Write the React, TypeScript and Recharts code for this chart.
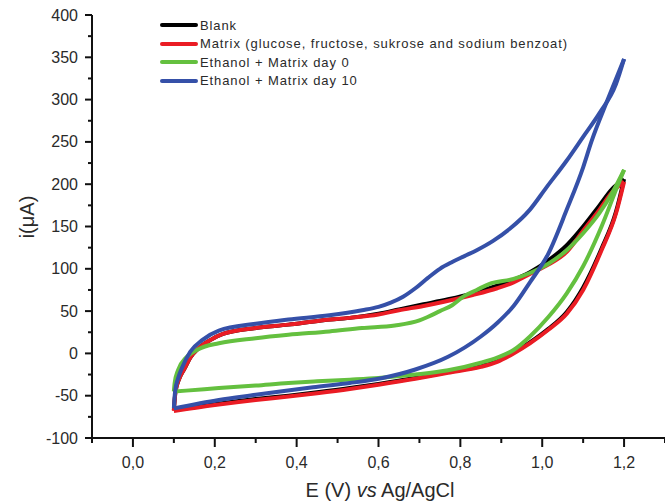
import { LineChart, Line, XAxis, YAxis } from 'recharts';

// potential (V) vs current (uA)
// forward scan 0.1 -> 1.2 V, reverse scan 1.2 -> 0.1 V
const BLANK_FORWARD: [number, number][] = [
  [0.10, -67], [0.104, -45], [0.113, -30], [0.126, -18], [0.14, -5], [0.16, 6], [0.19, 16],
  [0.22, 23], [0.30, 30], [0.38, 34], [0.46, 39], [0.53, 42], [0.60, 47], [0.65, 52],
  [0.71, 58], [0.77, 64], [0.83, 71], [0.89, 80], [0.93, 87], [0.97, 96], [1.015, 110],
  [1.06, 128], [1.10, 150], [1.14, 175], [1.17, 194], [1.20, 206],
];
const BLANK_REVERSE: [number, number][] = [
  [1.20, 206], [1.18, 167], [1.145, 124], [1.10, 78], [1.06, 49], [1.015, 29], [0.97, 13],
  [0.93, 1], [0.89, -9], [0.85, -15], [0.77, -22], [0.69, -29], [0.60, -36], [0.53, -41],
  [0.45, -46], [0.38, -50], [0.30, -54], [0.20, -60], [0.10, -67],
];

const MATRIX_FORWARD: [number, number][] = [
  [0.10, -68], [0.104, -45], [0.113, -30], [0.126, -18], [0.14, -5], [0.16, 6], [0.19, 16],
  [0.22, 23], [0.30, 30], [0.38, 34], [0.46, 39], [0.53, 42], [0.60, 46], [0.65, 51],
  [0.71, 56], [0.76, 61], [0.83, 69], [0.89, 77], [0.93, 84], [0.97, 94], [1.015, 105],
  [1.06, 120], [1.10, 145], [1.14, 170], [1.17, 190], [1.20, 203],
];
const MATRIX_REVERSE: [number, number][] = [
  [1.20, 203], [1.18, 165], [1.145, 122], [1.10, 75], [1.06, 47], [1.015, 28], [0.97, 12],
  [0.93, 0], [0.89, -10], [0.85, -16], [0.77, -23], [0.69, -30], [0.60, -37], [0.53, -42],
  [0.45, -47], [0.38, -51], [0.30, -55], [0.20, -61], [0.10, -68],
];

const DAY0_FORWARD: [number, number][] = [
  [0.10, -45], [0.102, -35], [0.11, -20], [0.13, -5], [0.16, 5], [0.21, 12], [0.30, 18],
  [0.38, 22], [0.48, 26], [0.56, 30], [0.64, 33], [0.70, 39], [0.72, 43], [0.75, 50],
  [0.78, 57], [0.81, 68], [0.84, 75], [0.87, 82], [0.93, 88], [0.97, 95], [1.015, 106],
  [1.06, 122], [1.10, 142], [1.14, 166], [1.17, 189], [1.20, 217],
];
const DAY0_REVERSE: [number, number][] = [
  [1.20, 217], [1.18, 193], [1.145, 150], [1.10, 103], [1.06, 71], [1.015, 43], [0.97, 20],
  [0.93, 4], [0.89, -5], [0.85, -11], [0.77, -20], [0.69, -25], [0.60, -29], [0.53, -31],
  [0.45, -33], [0.38, -35], [0.30, -38], [0.21, -41], [0.13, -44], [0.10, -45],
];

const DAY10_FORWARD: [number, number][] = [
  [0.10, -65], [0.103, -45], [0.11, -30], [0.12, -17], [0.14, 2], [0.17, 16], [0.21, 27],
  [0.30, 35], [0.38, 40], [0.48, 45], [0.56, 51], [0.60, 55], [0.63, 60], [0.66, 67],
  [0.69, 77], [0.72, 89], [0.75, 100], [0.78, 108], [0.81, 115], [0.84, 122], [0.88, 133],
  [0.92, 147], [0.97, 170], [1.01, 196], [1.06, 228], [1.10, 256], [1.14, 284], [1.18, 318],
  [1.20, 348],
];
const DAY10_REVERSE: [number, number][] = [
  [1.20, 348], [1.16, 300], [1.12, 250], [1.10, 220], [1.06, 170], [1.015, 118], [0.97, 84],
  [0.93, 56], [0.89, 36], [0.85, 20], [0.77, -4], [0.69, -19], [0.61, -29], [0.53, -35],
  [0.44, -40], [0.36, -45], [0.30, -49], [0.21, -55], [0.10, -65],
];

const SERIES_NAMES = [
  'Blank',
  'Matrix (glucose, fructose, sukrose and sodium benzoat)',
  'Ethanol + Matrix day 0',
  'Ethanol + Matrix day 10',
];
const SERIES_COLORS = ['#000000', '#ea1c24', '#64c03f', '#3550a8'];

const X_TICKS = [-0.1, 0.0, 0.1, 0.2, 0.3, 0.4, 0.5, 0.6, 0.7, 0.8, 0.9, 1.0, 1.1, 1.2, 1.3];
const X_TICK_LABELS = ['', '0,0', '', '0,2', '', '0,4', '', '0,6', '', '0,8', '', '1,0', '', '1,2', ''];
const Y_TICKS = [-100, -75, -50, -25, 0, 25, 50, 75, 100, 125, 150, 175, 200, 225, 250, 275, 300, 325, 350, 375, 400];
const Y_TICK_LABELS = ['-100', '', '-50', '', '0', '', '50', '', '100', '', '150', '', '200', '', '250', '', '300', '', '350', '', '400'];

const toPoints = (pairs: [number, number][]) =>
  pairs.map(([e, i]) => ({ e, i })).sort((a, b) => a.e - b.e);

const branches = [
  { name: SERIES_NAMES[0], color: SERIES_COLORS[0], fwd: BLANK_FORWARD, rev: BLANK_REVERSE },
  { name: SERIES_NAMES[1], color: SERIES_COLORS[1], fwd: MATRIX_FORWARD, rev: MATRIX_REVERSE },
  { name: SERIES_NAMES[2], color: SERIES_COLORS[2], fwd: DAY0_FORWARD, rev: DAY0_REVERSE },
  { name: SERIES_NAMES[3], color: SERIES_COLORS[3], fwd: DAY10_FORWARD, rev: DAY10_REVERSE },
];

const FONT = 'Arial, "Liberation Sans", sans-serif';
const TEXT_COLOR = '#2a2a2a';

const XTick = (props: any) => {
  const { x, y, index } = props;
  const label = X_TICK_LABELS[index];
  const major = label !== '';
  return (
    <g>
      <line x1={x} x2={x} y1={y} y2={y + (major ? 9 : 5)} stroke="#111" strokeWidth={2} />
      {major && (
        <text x={x} y={y + 30} textAnchor="middle" fontSize={16} fontFamily={FONT} fill={TEXT_COLOR}>
          {label}
        </text>
      )}
    </g>
  );
};

const YTick = (props: any) => {
  const { x, y, index } = props;
  const label = Y_TICK_LABELS[index];
  const major = label !== '';
  return (
    <g>
      <line x1={x - (major ? 7 : 4)} x2={x} y1={y} y2={y} stroke="#111" strokeWidth={2} />
      {major && (
        <text x={x - 14} y={y + 5.5} textAnchor="end" fontSize={16} fontFamily={FONT} fill={TEXT_COLOR}>
          {label}
        </text>
      )}
    </g>
  );
};

const LegendBox = () => (
  <div
    style={{
      position: 'absolute',
      top: 16,
      left: 160,
      fontFamily: FONT,
      fontSize: 13,
      color: TEXT_COLOR,
      letterSpacing: 0.9,
    }}
  >
    {SERIES_NAMES.map((name, idx) => (
      <div key={name} style={{ display: 'flex', alignItems: 'center', height: 18.5, whiteSpace: 'nowrap' }}>
        <div style={{ width: 38, height: 4, borderRadius: 2, background: SERIES_COLORS[idx], marginRight: 2 }} />
        <span>{name}</span>
      </div>
    ))}
  </div>
);

export default function App() {
  return (
    <div style={{ position: 'absolute', left: 0, top: 0, width: 665, height: 503, background: '#fff', overflow: 'hidden' }}>
      <LineChart width={665} height={503} margin={{ top: 15, right: 0, bottom: 0, left: 0 }}>
        <XAxis
          type="number"
          dataKey="e"
          domain={[-0.1, 1.3]}
          ticks={X_TICKS}
          interval={0}
          allowDataOverflow
          height={65}
          tickSize={0}
          tickMargin={0}
          tick={<XTick />}
          axisLine={{ stroke: '#111', strokeWidth: 2 }}
          label={{
            content: () => (
              <text x={380} y={497} textAnchor="middle" fontSize={20} fontFamily={FONT} fill={TEXT_COLOR}>
                E (V) <tspan fontStyle="italic">vs</tspan> Ag/AgCl
              </text>
            ),
          }}
        />
        <YAxis
          type="number"
          domain={[-100, 400]}
          ticks={Y_TICKS}
          interval={0}
          allowDataOverflow
          width={92}
          tickSize={0}
          tickMargin={0}
          tick={<YTick />}
          axisLine={{ stroke: '#111', strokeWidth: 2 }}
          label={{
            content: () => (
              <text
                x={34}
                y={217}
                transform="rotate(-90 34 217)"
                textAnchor="middle"
                fontSize={20}
                fontFamily={FONT}
                fill={TEXT_COLOR}
              >
                i(μA)
              </text>
            ),
          }}
        />
        {branches.map((b) => [
          <Line
            key={b.name + '-fwd'}
            name={b.name}
            data={toPoints(b.fwd)}
            dataKey="i"
            type="monotone"
            stroke={b.color}
            strokeWidth={4}
            dot={false}
            activeDot={false}
            isAnimationActive={false}
          />,
          <Line
            key={b.name + '-rev'}
            name={b.name + ' (reverse)'}
            data={toPoints(b.rev)}
            dataKey="i"
            type="monotone"
            stroke={b.color}
            strokeWidth={4}
            dot={false}
            activeDot={false}
            isAnimationActive={false}
          />,
        ])}
      </LineChart>
      <LegendBox />
    </div>
  );
}
